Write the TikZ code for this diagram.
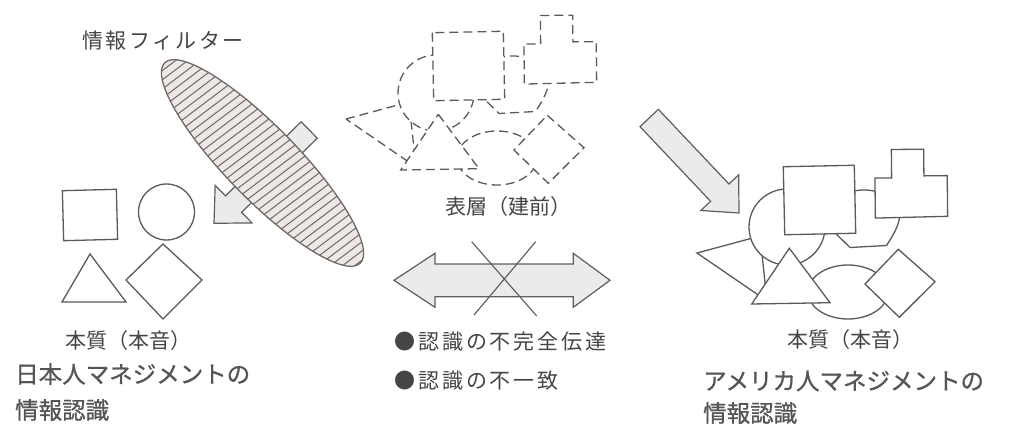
\documentclass[tikz,border=0pt]{standalone}
\usepackage{fontspec}
\newfontfamily\jp{Noto Sans CJK JP}
\newfontfamily\jpsp[LetterSpace=14]{Noto Sans CJK JP}
\newfontfamily\jpfl[LetterSpace=12]{Noto Sans CJK JP}
\newfontfamily\jphead[FakeBold=0.8]{Noto Sans CJK JP}
\usetikzlibrary{calc}
\definecolor{ink}{HTML}{5A5A5A}
\definecolor{txt}{HTML}{454545}
\definecolor{headtxt}{HTML}{555555}
\definecolor{arrowfill}{HTML}{EBEBEB}
\definecolor{arrowline}{HTML}{5E5E5E}
\definecolor{hatchfill}{HTML}{EDE8E5}
\definecolor{hatchline}{HTML}{716763}
\definecolor{hatchrim}{HTML}{6E6A68}
\tikzset{
  shp/.style={draw=ink, line width=1.3pt, fill=white, line join=miter},
  dsh/.style={dash pattern=on 9pt off 5pt},
  fatarrowsty/.style={draw=arrowline, line width=1.2pt, fill=arrowfill, line join=miter},
  lbl/.style={inner sep=0pt, anchor=west, text=txt, font=\jp\fontsize{21}{21}\selectfont},
  bul/.style={inner sep=0pt, anchor=west, text=txt, font=\jpsp\fontsize{21}{21}\selectfont},
  head/.style={inner sep=0pt, anchor=west, text=headtxt, font=\jphead\fontsize{23.5}{23.5}\selectfont},
}
% group of overlapping shapes, drawn back to front
\newcommand\shapegroup[1]{%
  \path[shp,#1] (697,253) -- (760,236) -- (767,301) -- cycle;
  \path[shp,#1] (787,227) circle[radius=38pt];
  \path[shp,#1] (828,226) -- (850,247.5) -- (886.5,245.5)
     .. controls (894,234) and (900,224) .. (900,212) -- (895,188) -- (876,191.5)
     .. controls (868,189.5) and (860,189.5) .. (852,191.5) -- cycle;
  \path[shp,#1,rotate around={1.2:(819.5,200)}] (784,166) rectangle (855,234);
  \path[shp,#1,rotate around={0.6:(911,183)}] (891.7,149.3) -- (924,149.3) -- (924,176) -- (947.3,176) -- (947.3,216.7)
     -- (875,217.7) -- (875,177.7) -- (891.7,177.7) -- cycle;
  \path[shp,#1] (848,292) ellipse[x radius=40pt, y radius=27pt];
  \path[shp,#1] (789.3,248.3) -- (830,302.7) -- (751.7,304) -- cycle;
  \path[shp,#1] (898.3,249.3) -- (935,281.7) -- (899.3,317.3) -- (865,284) -- cycle;
}
% fat arrow: #1 start, #2 tip, #3 shaft half width, #4 head half width, #5 head length, #6 prefix
\newcommand\fatarrow[6]{%
  \coordinate (#6h) at ($(#2)!#5!(#1)$);
  \path[fatarrowsty] ($(#1)!#3!90:(#2)$) -- ($(#6h)!#3!90:(#2)$) -- ($(#6h)!#4!90:(#2)$)
     -- (#2) -- ($(#6h)!#4!-90:(#2)$) -- ($(#6h)!#3!-90:(#2)$) -- ($(#1)!#3!-90:(#2)$) -- cycle;
}
\begin{document}
\begin{tikzpicture}[x=1pt,y=-1pt]
\useasboundingbox (0,0) rectangle (1012,430);
\fill[white] (0,0) rectangle (1012,430);

% ---------- left: Japanese management ----------
\coordinate (la-s) at (309.2,130);
\coordinate (la-t) at (214,223.3);
\fatarrow{la-s}{la-t}{11.5pt}{26.3pt}{27.4pt}{la}

\begin{scope}[shift={(262.5,163)}, rotate=-45.7]
  \fill[hatchfill] (0,0) ellipse[x radius=140pt, y radius=36pt];
  \begin{scope}
    \clip (0,0) ellipse[x radius=140pt, y radius=36pt];
    \foreach \a in {-150,-142.6,...,150}
      \draw[hatchline, line width=1pt] (\a-5.1,40) -- (\a+5.1,-40);
  \end{scope}
  \draw[hatchrim, line width=1.3pt] (0,0) ellipse[x radius=140pt, y radius=36pt];
\end{scope}

\node[inner sep=0pt, anchor=west, text=txt, font=\jpfl\fontsize{21}{21}\selectfont] (filter) at (82,41) {情報フィルター};

\path[shp, rotate around={1.5:(90,215)}] (63,190) rectangle (117,240);
\path[shp] (166.5,212) circle[radius=28pt];
\path[shp] (62,302) -- (126,302) -- (90,254) -- cycle;
\path[shp] (163,244) -- (202,280) -- (163,319) -- (126,280) -- cycle;

\node[lbl] (lhonshitsu) at (65,341) {本質（本音）};
\node[head] (lhead1) at (15,374) {日本人マネジメントの};
\node[head] (lhead2) at (15,410) {情報認識};

% ---------- middle: surface ----------
\begin{scope}[shift={(-351,-134)}]
  \shapegroup{dsh}
\end{scope}
\node[lbl] (hyoso) at (445,207) {表層（建前）};

\path[fatarrowsty] (394,280.3) -- (435,253.3) -- (435,264) -- (573.3,264) -- (573.3,253.3)
  -- (610,280.3) -- (573.3,307.3) -- (573.3,296.7) -- (435,296.7) -- (435,307.3) -- cycle;
\draw[ink, line width=1.1pt] (471.7,241.7) -- (536.7,316);
\draw[ink, line width=1.1pt] (535.7,241.7) -- (474,315);

\node[bul] (b1) at (394,342) {●認識の不完全伝達};
\node[bul] (b2) at (394,381) {●認識の不一致};

% ---------- right: American management ----------
\coordinate (ra-s) at (649.2,118);
\coordinate (ra-t) at (739,213);
\fatarrow{ra-s}{ra-t}{12.6pt}{26pt}{28pt}{ra}

\shapegroup{}

\node[lbl] (rhonshitsu) at (787,340) {本質（本音）};
\node[head] (rhead1) at (703,381) {アメリカ人マネジメントの};
\node[head] (rhead2) at (703,413) {情報認識};
\end{tikzpicture}
\end{document}
